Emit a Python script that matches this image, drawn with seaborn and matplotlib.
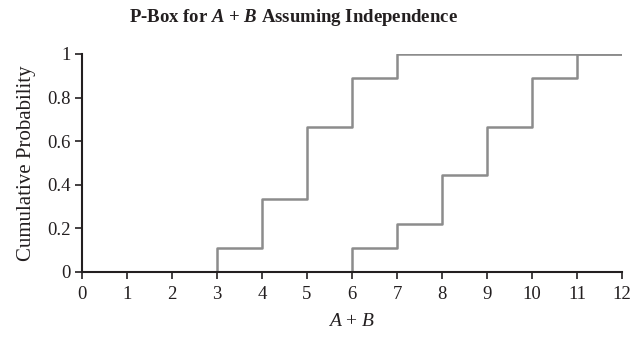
import matplotlib
matplotlib.use("Agg")
import matplotlib.pyplot as plt
import seaborn as sns
import pandas as pd

# Step points of the two bounding CDFs of A + B
upper_x = [0, 3, 4, 5, 6, 7, 12]
upper_p = [0.0, 0.111, 0.333, 0.667, 0.889, 1.0, 1.0]
lower_x = [0, 6, 7, 8, 9, 10, 11, 12]
lower_p = [0.0, 0.111, 0.222, 0.444, 0.667, 0.889, 1.0, 1.0]

x_ticks = list(range(0, 13))
y_ticks = [0, 0.2, 0.4, 0.6, 0.8, 1]
y_tick_labels = ["0", "0.2", "0.4", "0.6", "0.8", "1"]

sns.set_theme(style="ticks")
plt.rcParams["font.family"] = ["Liberation Serif", "DejaVu Serif"]
plt.rcParams["mathtext.fontset"] = "custom"
plt.rcParams["mathtext.it"] = "Liberation Serif:italic"
plt.rcParams["mathtext.bfit"] = "Liberation Serif:bold:italic"
plt.rcParams["mathtext.rm"] = "Liberation Serif"

df = pd.concat([
    pd.DataFrame({"x": upper_x, "p": upper_p, "bound": "upper"}),
    pd.DataFrame({"x": lower_x, "p": lower_p, "bound": "lower"}),
])

fig = plt.figure(figsize=(6.32, 3.37), dpi=100)
ax = fig.add_axes([0.130, 0.193, 0.854, 0.647])

sns.lineplot(data=df, x="x", y="p", units="bound", estimator=None,
             drawstyle="steps-post", color="#8c8c8c", linewidth=1.8,
             ax=ax, legend=False)

ax.set_xlim(0, 12)
ax.set_ylim(0, 1)
ax.set_xticks(x_ticks)
ax.set_xticklabels([str(t) for t in x_ticks])
ax.set_yticks(y_ticks)
ax.set_yticklabels(y_tick_labels)
ax.tick_params(axis="both", direction="out", length=5, width=1.2,
               color="#231f20", labelsize=13.5, labelcolor="#231f20", pad=5)
ax.tick_params(axis="y", pad=3)
for side in ("left", "bottom"):
    ax.spines[side].set_color("#231f20")
    ax.spines[side].set_linewidth(1.5)
sns.despine(ax=ax)

ax.set_xlabel(r"$A$ + $B$", fontsize=14, color="#231f20", labelpad=7)
ax.set_ylabel("Cumulative Probability", fontsize=15, color="#231f20", labelpad=8)
fig.text(0.464, 0.947, r"P-Box for $\mathbfit{A}$ + $\mathbfit{B}$ Assuming Independence",
         ha="center", va="center", fontsize=13.5, fontweight="bold", color="#231f20")

fig.savefig("out.png", dpi=100)
